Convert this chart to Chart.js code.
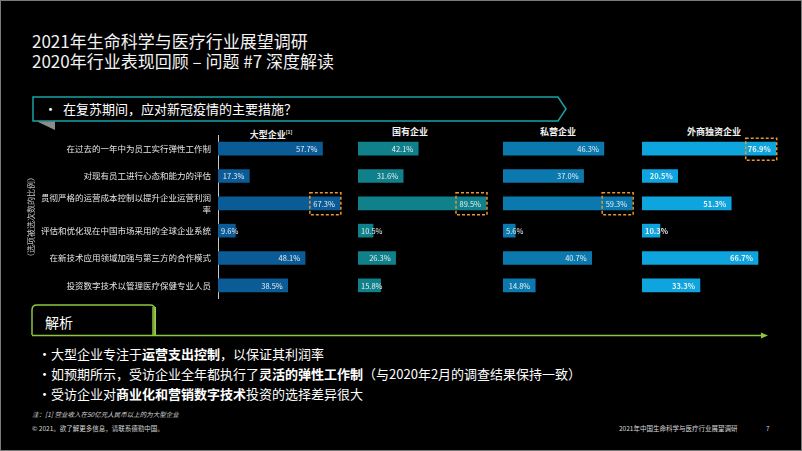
<!DOCTYPE html>
<html lang="zh">
<head>
    <meta charset="UTF-8">
    <title>2020年行业表现回顾</title>
    <script src="https://cdn.jsdelivr.net/npm/chart.js"></script>
    <style>
        body { margin: 0; background: #000; }
        #page {
            position: relative; width: 802px; height: 451px; overflow: hidden;
            background: #000; color: #fff;
            font-family: "Noto Sans CJK SC", "Noto Sans", sans-serif;
        }
        #frame { position: absolute; left: 0; top: 0; width: 800px; height: 449px; border: 1px solid #7a7a7a; }
        .abs { position: absolute; white-space: nowrap; }
        .title { left: 32px; font-size: 17px; line-height: 20px; color: #f2f2f2; }
        .head { top: 126px; font-size: 9px; font-weight: bold; line-height: 12px; transform: translateX(-50%); color: #f0f0f0; }
        .head sup { font-size: 5px; }
        .bul { left: 38px; font-size: 13px; line-height: 18px; }
        .bul span.t { position: absolute; left: 13px; }
        .small { font-size: 6.5px; line-height: 9px; color: #d9d9d9; }
        canvas { position: absolute; }
    </style>
</head>
<body>
<div id="page">
    <div id="frame"></div>

    <!-- 标题 -->
    <div class="abs title" style="top:31px">2021年生命科学与医疗行业展望调研</div>
    <div class="abs title" style="top:51px">2020年行业表现回顾 – 问题 #7 深度解读</div>

    <!-- 装饰图形 -->
    <svg class="abs" style="left:0;top:0" width="802" height="451">
        <defs>
            <linearGradient id="g" x1="0" y1="0" x2="1" y2="0">
                <stop offset="0" stop-color="#5a8a25"/>
                <stop offset="1" stop-color="#a6d451"/>
            </linearGradient>
        </defs>
        <polygon points="33,97 558,97 566,109 558,121 33,121" fill="none" stroke="#17a3a6" stroke-width="1.5"/>
        <polygon points="37,121.5 55,121.5 55,130" fill="#8c8c8c"/>
        <path d="M32,335 V310 Q32,305 37,305 H150 Q155,305 155,310 V335" fill="none" stroke="#8cc63f" stroke-width="1.5"/>
        <rect x="152" y="307" width="4" height="28" fill="url(#g)"/>
        <path d="M32,335.5 H763" stroke="#8cc63f" stroke-width="1.5"/>
        <polygon points="761,332.5 768,335.5 761,338.5" fill="#8cc63f"/>
    </svg>

    <div class="abs" style="left:44px;top:100px;font-size:13px;line-height:18px">•</div>
    <div class="abs" style="left:63px;top:100px;font-size:13px;line-height:18px">在复苏期间，应对新冠疫情的主要措施？</div>

    <!-- 列标题 -->
    <div class="abs head" style="left:271px">大型企业<sup>[1]</sup></div>
    <div class="abs head" style="left:410px">国有企业</div>
    <div class="abs head" style="left:558px">私营企业</div>
    <div class="abs head" style="left:714px">外商独资企业</div>

    <canvas id="c0" width="321" height="164" style="left:25px;top:135px"></canvas>
    <canvas id="c1" width="132" height="164" style="left:358px;top:135px"></canvas>
    <canvas id="c2" width="132" height="164" style="left:503px;top:135px"></canvas>
    <canvas id="c3" width="140" height="164" style="left:642px;top:135px"></canvas>

    <!-- 解析 -->
    <div class="abs" style="left:45px;top:312px;font-size:14px;line-height:20px">解析</div>
    <div class="abs bul" style="top:345px">•<span class="t">大型企业专注于<b>运营支出控制</b>，以保证其利润率</span></div>
    <div class="abs bul" style="top:365px">•<span class="t">如预期所示，受访企业全年都执行了<b>灵活的弹性工作制</b>（与2020年2月的调查结果保持一致）</span></div>
    <div class="abs bul" style="top:385px">•<span class="t">受访企业对<b>商业化和营销数字技术</b>投资的选择差异很大</span></div>

    <!-- 页脚 -->
    <div class="abs small" style="left:32px;top:410px;font-style:italic">注：[1] 营业收入在50亿元人民币以上的为大型企业</div>
    <div class="abs small" style="left:32px;top:424px">© 2021。欲了解更多信息，请联系德勤中国。</div>
    <div class="abs small" style="left:619px;top:424px">2021年中国生命科学与医疗行业展望调研</div>
    <div class="abs small" style="left:766px;top:424px">7</div>
</div>

<script>
    // 数据
    const measures = [
        '在过去的一年中为员工实行弹性工作制',
        '对现有员工进行心态和能力的评估',
        ['贯彻严格的运营成本控制以提升企业运营利润', '率'],
        '评估和优化现在中国市场采用的全球企业系统',
        '在新技术应用领域加强与第三方的合作模式',
        '投资数字技术以管理医疗保健专业人员'
    ];
    const largeCo = [57.7, 17.3, 67.3, 9.6, 48.1, 38.5];
    const stateCo = [42.1, 31.6, 89.5, 10.5, 26.3, 15.8];
    const privateCo = [46.3, 37.0, 59.3, 5.6, 40.7, 14.8];
    const foreignCo = [76.9, 20.5, 51.3, 10.3, 66.7, 33.3];
    const highlighted = [2, 2, 2, 0];   // 虚线框标出的项

    const series = [largeCo, stateCo, privateCo, foreignCo];
    const barColors = ['#0b5b96', '#10808a', '#0b79ad', '#0ea5df'];
    const axisMax = [70.7, 92.3, 60.6, 80.5];
    const family = '"Noto Sans CJK SC", "Noto Sans", sans-serif';

    function labelPlugin(idx) {
        return {
            id: 'valueLabels' + idx,
            afterDatasetsDraw(chart) {
                const ctx = chart.ctx;
                const meta = chart.getDatasetMeta(0);
                ctx.save();
                ctx.font = (idx === 3 ? 'bold ' : '') + '7.5px ' + family;
                ctx.fillStyle = '#e8eef3';
                ctx.textAlign = 'right';
                ctx.textBaseline = 'middle';
                meta.data.forEach((bar, i) => {
                    const txt = series[idx][i].toFixed(1) + '%';
                    const w = ctx.measureText(txt).width;
                    const x = Math.max(bar.x - 5, bar.base + 3 + w);
                    ctx.fillText(txt, x, bar.y + 0.5);
                    if (i === highlighted[idx]) {
                        ctx.strokeStyle = '#e8962e';
                        ctx.lineWidth = 1.5;
                        ctx.setLineDash([3, 2]);
                        ctx.strokeRect(bar.x - 30, bar.y - 10.5, 31, 22);
                        ctx.setLineDash([]);
                    }
                });
                ctx.restore();
            }
        };
    }

    function makePanel(idx) {
        const yAxis = idx === 0 ? {
            afterFit: s => { s.width = 193; s.paddingTop = 0; s.paddingBottom = 0; },
            grid: { display: false, drawTicks: false },
            border: { display: true, color: '#c8c8c8', width: 1 },
            ticks: { color: '#e6e6e6', padding: 7, autoSkip: false, font: { size: 8.5, family, lineHeight: 1.4 } },
            title: { display: true, text: '（选项被选次数的比例）', color: '#c0c0c0', padding: { top: 1, bottom: 0 }, font: { size: 8, family } }
        } : { display: false };

        new Chart(document.getElementById('c' + idx), {
            type: 'bar',
            data: {
                labels: measures,
                datasets: [{ data: series[idx], backgroundColor: barColors[idx], barThickness: 13 }]
            },
            options: {
                indexAxis: 'y',
                responsive: false,
                animation: false,
                layout: { padding: 0 },
                plugins: { legend: { display: false }, tooltip: { enabled: false } },
                scales: {
                    x: { display: false, min: 0, max: axisMax[idx] },
                    y: yAxis
                }
            },
            plugins: [labelPlugin(idx)]
        });
    }

    [0, 1, 2, 3].forEach(makePanel);
</script>
</body>
</html>
